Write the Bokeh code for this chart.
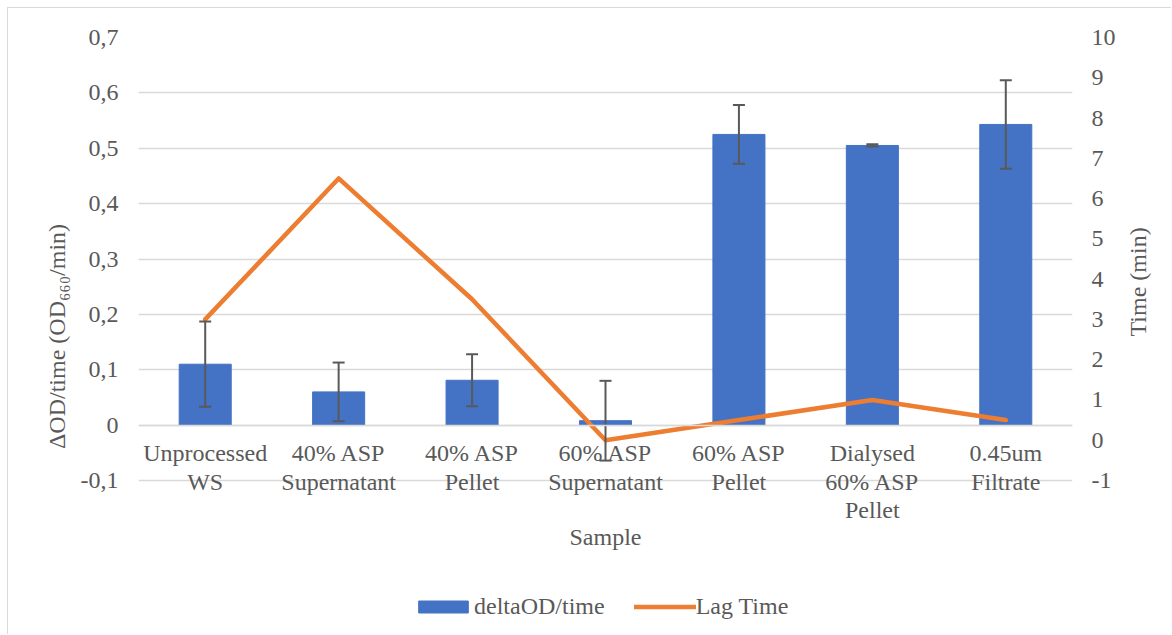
import math
from bokeh.plotting import figure
from bokeh.models import (FactorRange, Range1d, LinearAxis, FixedTicker, CustomJSTickFormatter,
                          ColumnDataSource, Whisker, TeeHead, Legend, LegendItem)
from bokeh.embed import file_html
from bokeh.resources import INLINE

# ---- data ----
categories = ["Unprocessed\nWS", "40% ASP\nSupernatant", "40% ASP\nPellet", "60% ASP\nSupernatant",
              "60% ASP\nPellet", "Dialysed\n60% ASP\nPellet", "0.45um\nFiltrate"]
delta_od = [0.110, 0.060, 0.081, 0.008, 0.525, 0.505, 0.543]
delta_od_err = [0.077, 0.053, 0.047, 0.072, 0.053, 0.002, 0.080]
lag_time = [3.0, 6.5, 3.5, 0.0, 0.5, 1.0, 0.5]
left_ticks = [-0.1, 0.0, 0.1, 0.2, 0.3, 0.4, 0.5, 0.6, 0.7]
right_ticks = [-1, 0, 1, 2, 3, 4, 5, 6, 7, 8, 9, 10]

FONT = "Liberation Serif"
TXT = "#595959"
GRID = "#d9d9d9"
BLUE = "#4472C4"
ORANGE = "#ED7D31"

# ---- layout geometry (pixels) ----
W, H = 1164, 627
BORDER_L, BORDER_R, BORDER_T, BORDER_B = 130, 100, 29, 0
FRAME_H = H - BORDER_T - BORDER_B
AXIS_PX = 443.0  # pixel height of the -0.1..0.7 (and -1..10) axes
L_LO, L_HI = left_ticks[0], left_ticks[-1]
R_LO, R_HI = right_ticks[0], right_ticks[-1]
l_start = L_HI - FRAME_H / AXIS_PX * (L_HI - L_LO)
r_start = R_HI - FRAME_H / AXIS_PX * (R_HI - R_LO)

p = figure(width=W, height=H, x_range=FactorRange(*categories),
           y_range=Range1d(l_start, L_HI), output_backend="svg", toolbar_location=None,
           min_border_left=BORDER_L, min_border_right=BORDER_R,
           min_border_top=BORDER_T, min_border_bottom=BORDER_B)
p.extra_y_ranges = {"time": Range1d(r_start, R_HI)}
p.outline_line_color = None
p.background_fill_color = "white"
p.border_fill_color = "white"
p.styles = {"margin-left": "7px", "margin-top": "7px",
            "border-top": "1px solid #d9d9d9", "border-left": "1px solid #d9d9d9"}

src = ColumnDataSource(dict(
    cat=categories, val=delta_od,
    upper=[v + e for v, e in zip(delta_od, delta_od_err)],
    lower=[v - e for v, e in zip(delta_od, delta_od_err)],
    lag=lag_time))

bars = p.vbar(x="cat", top="val", width=0.39, source=src, fill_color=BLUE, line_color=BLUE)

wh = Whisker(base="cat", upper="upper", lower="lower", source=src, dimension="height",
             line_color=TXT, line_width=2, level="glyph",
             upper_head=TeeHead(size=12, line_color=TXT, line_width=2),
             lower_head=TeeHead(size=12, line_color=TXT, line_width=2))
p.add_layout(wh)

line = p.line(x="cat", y="lag", source=src, y_range_name="time", line_color=ORANGE,
              line_width=4.5, line_join="round", line_cap="round")

# grid
p.xgrid.grid_line_color = None
p.ygrid.grid_line_color = GRID
p.ygrid.grid_line_width = 1.3
p.ygrid.ticker = FixedTicker(ticks=left_ticks)

# left axis
ya = p.yaxis[0]
ya.ticker = FixedTicker(ticks=left_ticks)
ya.bounds = (L_LO, L_HI)
ya.formatter = CustomJSTickFormatter(code="""
    if (Math.abs(tick) < 1e-9) return '0';
    return tick.toFixed(1).replace('.', ',');
""")
ya.axis_line_color = None
ya.major_tick_line_color = None
ya.minor_tick_line_color = None
ya.major_label_standoff = 14
ya.major_label_text_font = FONT
ya.major_label_text_font_size = "24px"
ya.major_label_text_color = TXT
ya.axis_label = "ΔOD/time (OD₆₆₀/min)"
ya.axis_label_text_font = FONT
ya.axis_label_text_font_size = "24px"
ya.axis_label_text_font_style = "normal"
ya.axis_label_text_color = TXT
ya.axis_label_standoff = 8

# right axis
ra = LinearAxis(y_range_name="time", ticker=FixedTicker(ticks=right_ticks), bounds=(R_LO, R_HI))
ra.formatter = CustomJSTickFormatter(code="return tick.toFixed(0);")
ra.axis_line_color = None
ra.major_tick_line_color = None
ra.minor_tick_line_color = None
ra.major_label_standoff = 13
ra.major_label_text_align = "left"
ra.major_label_text_font = FONT
ra.major_label_text_font_size = "24px"
ra.major_label_text_color = TXT
ra.axis_label = "Time (min)"
ra.axis_label_text_font = FONT
ra.axis_label_text_font_size = "24px"
ra.axis_label_text_font_style = "normal"
ra.axis_label_text_color = TXT
ra.axis_label_standoff = 19
if "axis_label_orientation" in ra.properties():
    ra.axis_label_orientation = math.pi / 2
p.add_layout(ra, "right")

# x axis drawn at the zero line
xa = p.xaxis[0]
xa.fixed_location = 0
xa.axis_line_color = GRID
xa.axis_line_width = 1.3
xa.major_tick_line_color = None
xa.minor_tick_line_color = None
xa.major_label_standoff = 9
xa.major_label_text_font = FONT
xa.major_label_text_font_size = "24px"
xa.major_label_text_color = TXT
xa.major_label_text_line_height = 1.1
xa.axis_label = "Sample"
xa.axis_label_text_font = FONT
xa.axis_label_text_font_size = "24px"
xa.axis_label_text_font_style = "normal"
xa.axis_label_text_color = TXT
xa.axis_label_standoff = -3

legend = Legend(items=[LegendItem(label="deltaOD/time", renderers=[bars]),
                       LegendItem(label="Lag Time", renderers=[line])],
                orientation="horizontal", location=(274, 15),
                glyph_width=62, glyph_height=15, label_standoff=0, spacing=29,
                padding=0, margin=0, border_line_color=None, background_fill_alpha=0,
                label_text_font=FONT, label_text_font_size="24px", label_text_color=TXT)
p.add_layout(legend, "center")

open("out.html", "w").write(file_html(p, INLINE))
